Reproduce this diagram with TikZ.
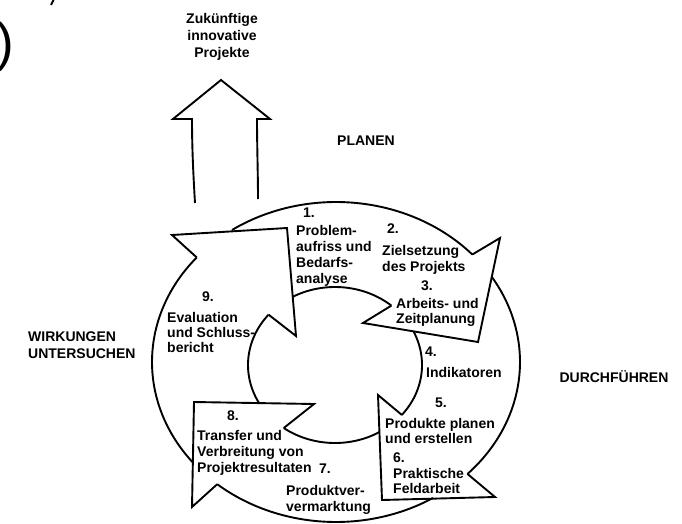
\documentclass[tikz,border=0pt]{standalone}
\usepackage{fontspec}
\setmainfont{Liberation Sans}
\begin{document}
\begin{tikzpicture}[x=1pt,y=-1pt,
  line/.style={line width=1.9pt, line join=miter, black},
  head/.style={font=\fontsize{14}{17}\selectfont\bfseries, inner sep=0pt},
  num/.style={font=\fontsize{14}{16}\selectfont\bfseries, inner sep=0pt, anchor=center},
  blk/.style={font=\fontsize{14}{#1}\selectfont\bfseries, inner sep=0pt, anchor=north west, align=left},
  blk/.default=16]
\useasboundingbox (0,0) rectangle (682,524);
\fill[white] (0,0) rectangle (682,524);
\def\ocx{336}\def\ocy{362}\def\orx{184}\def\ory{160}
\def\icx{335}\def\icy{365}\def\irx{87}\def\iry{78}
% notch points on the rings
\coordinate (o9)  at ({\ocx+\orx*cos(220.8)},{\ocy+\ory*sin(220.8)});
\coordinate (o13) at ({\ocx+\orx*cos(-42.2)},{\ocy+\ory*sin(-42.2)});
\coordinate (o56) at ({\ocx+\orx*cos(44.4)},{\ocy+\ory*sin(44.4)});
\coordinate (o8)  at ({\ocx+\orx*cos(130.2)},{\ocy+\ory*sin(130.2)});
\coordinate (i9)  at ({\icx+\irx*cos(220.2)},{\icy+\iry*sin(220.2)});
\coordinate (i13) at ({\icx+\irx*cos(-49.6)},{\icy+\iry*sin(-49.6)});
\coordinate (i56) at ({\icx+\irx*cos(39.8)},{\icy+\iry*sin(39.8)});
\coordinate (i8)  at ({\icx+\irx*cos(126.1)},{\icy+\iry*sin(126.1)});
% outer ring arcs
\draw[line] plot[domain=-124.4:-42.2, samples=60, smooth] ({\ocx+\orx*cos(\x)},{\ocy+\ory*sin(\x)});
\draw[line] plot[domain=-32:44.4, samples=60, smooth] ({\ocx+\orx*cos(\x)},{\ocy+\ory*sin(\x)});
\draw[line] plot[domain=58.2:130.2, samples=60, smooth] ({\ocx+\orx*cos(\x)},{\ocy+\ory*sin(\x)});
\draw[line] plot[domain=141:220.8, samples=60, smooth] ({\ocx+\orx*cos(\x)},{\ocy+\ory*sin(\x)});
% inner ring arcs
\draw[line] plot[domain=-119:-49.6, samples=50, smooth] ({\icx+\irx*cos(\x)},{\icy+\iry*sin(\x)});
\draw[line] plot[domain=-25.5:39.8, samples=50, smooth] ({\icx+\irx*cos(\x)},{\icy+\iry*sin(\x)});
\draw[line] plot[domain=59.3:126.1, samples=50, smooth] ({\icx+\irx*cos(\x)},{\icy+\iry*sin(\x)});
\draw[line] plot[domain=150.9:220.2, samples=50, smooth] ({\icx+\irx*cos(\x)},{\icy+\iry*sin(\x)});
% arrow heads
\draw[line] (i9) -- (296,336) -- (287,228) -- (172,235) -- (o9);
\draw[line] (i13) -- (363,323) -- (478,342) -- (500,238) -- (o13);
\draw[line] (i56) -- (378,395) -- (382,500) -- (495,497) -- (o56);
\draw[line] (i8) -- (314,404) -- (194,402) -- (192,507) -- (o8);
% upward arrow
\draw[line] (195,203) .. controls (193,170) and (192,145) .. (192,119) -- (173,119) -- (221,80) -- (270,119) -- (257,119) .. controls (257,145) and (258,175) .. (258,199);
% cropped fragments at top left
\node[font=\fontsize{53}{60}\selectfont, inner sep=0pt, anchor=base west] (paren) at (-4,61) {)};
\draw[line width=1.8pt] (53.5,0) -- (51,5);
% headings
\node[head, align=center, anchor=north] (fut) at (222,13) {Zukünftige\\innovative\\Projekte};
\node[head] (plan) at (366,141) {PLANEN};
\node[head, align=left, anchor=north west] (wirk) at (28,332) {WIRKUNGEN\\UNTERSUCHEN};
\node[head] (durch) at (614,377) {DURCHFÜHREN};
% numbers
\node[num] (n1) at (309,213) {1.};
\node[num] (n2) at (393,229) {2.};
\node[num] (n3) at (427,286) {3.};
\node[num] (n4) at (431,352) {4.};
\node[num] (n5) at (441,403) {5.};
\node[num] (n6) at (399,458) {6.};
\node[num] (n7) at (325,469) {7.};
\node[num] (n8) at (233,416) {8.};
\node[num] (n9) at (208,297) {9.};
% texts
\node[blk=16] (t1) at (296,225) {Problem-\\aufriss und\\Bedarfs-\\analyse};
\node[blk=16.5] (t2) at (382,245) {Zielsetzung\\des Projekts};
\node[blk=15] (t3) at (396,298) {Arbeits- und\\Zeitplanung};
\node[blk] (t4) at (426,367) {Indikatoren};
\node[blk=15] (t5) at (385,418) {Produkte planen\\und erstellen};
\node[blk=15] (t6) at (393,468) {Praktische\\Feldarbeit};
\node[blk=16] (t7) at (286,485) {Produktver-\\vermarktung};
\node[blk=16] (t8) at (197,430) {Transfer und\\Verbreitung von\\Projektresultaten};
\node[blk=15] (t9) at (167,312) {Evaluation\\und Schluss-\\bericht};
\end{tikzpicture}
\end{document}
